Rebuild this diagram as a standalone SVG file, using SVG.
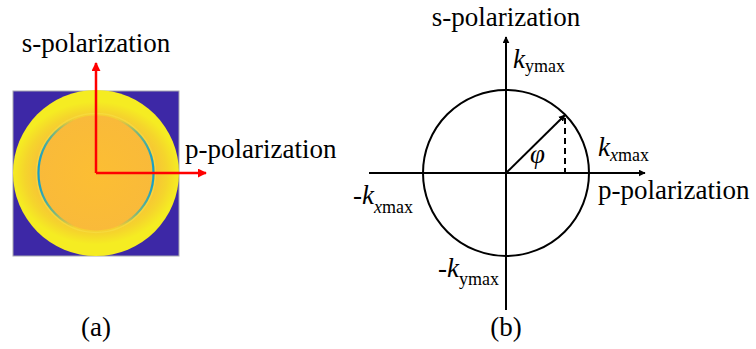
<svg xmlns="http://www.w3.org/2000/svg" width="756" height="349" viewBox="0 0 756 349" font-family="'Liberation Serif', 'DejaVu Serif', serif">
<style>
  text { font-family: 'Liberation Serif', 'Times New Roman', 'DejaVu Serif', serif; font-size: 27px; fill: #000; }
  .it { font-style: italic; }
  .sub { font-size: 18px; }
  .ax { stroke: #000; stroke-width: 2; fill: none; }
  .red { stroke: #ff0000; stroke-width: 2.5; fill: none; }
</style>
<defs>
  <marker id="ahB" viewBox="0 0 10 10" refX="9" refY="5" markerWidth="7" markerHeight="7" markerUnits="userSpaceOnUse" orient="auto">
    <path d="M0,0 L10,5 L0,10 z" fill="#000"/>
  </marker>
  <marker id="ahR" viewBox="0 0 10 10" refX="9" refY="5" markerWidth="9" markerHeight="9" markerUnits="userSpaceOnUse" orient="auto">
    <path d="M0,0 L10,5 L0,10 z" fill="#ff0000"/>
  </marker>
  <radialGradient id="outerG" gradientUnits="userSpaceOnUse" cx="96" cy="173" r="83" gradientTransform="translate(96 173) scale(1 0.86) translate(-96 -173)">
    <stop offset="0" stop-color="#fbbb38"/>
    <stop offset="0.7" stop-color="#f7c237"/>
    <stop offset="0.86" stop-color="#f5d52c"/>
    <stop offset="1" stop-color="#f5ec22"/>
  </radialGradient>
  <radialGradient id="innerG" gradientUnits="userSpaceOnUse" cx="96" cy="173" r="58">
    <stop offset="0" stop-color="#fcbe33"/>
    <stop offset="1" stop-color="#f9ba3a"/>
  </radialGradient>
  <linearGradient id="ringG" x1="0" y1="0" x2="1" y2="0">
    <stop offset="0" stop-color="#159fc8" stop-opacity="1"/>
    <stop offset="0.15" stop-color="#2fb2a8" stop-opacity="0.6"/>
    <stop offset="0.32" stop-color="#8fc66a" stop-opacity="0"/>
    <stop offset="0.68" stop-color="#8fc66a" stop-opacity="0"/>
    <stop offset="0.85" stop-color="#2fb2a8" stop-opacity="0.6"/>
    <stop offset="1" stop-color="#159fc8" stop-opacity="1"/>
  </linearGradient>
</defs>

<g id="panel-a">
  <rect x="13" y="91" width="166" height="165" fill="#3d28a6" stroke="#a8a8b0" stroke-width="1"/>
  <circle cx="96" cy="173" r="83" fill="url(#outerG)"/>
  <circle cx="96" cy="173" r="59.5" fill="none" stroke="#f7e24a" stroke-width="1.5" opacity="0.5"/>
  <circle cx="96" cy="173" r="57.5" fill="url(#innerG)"/>
  <circle cx="96" cy="173" r="57.5" fill="none" stroke="url(#ringG)" stroke-width="2.2"/>
</g>

<g id="connectors">
  <line class="red" x1="96" y1="173" x2="96" y2="63" marker-end="url(#ahR)"/>
  <line class="red" x1="96" y1="173" x2="206" y2="173" marker-end="url(#ahR)"/>
  <line class="ax" x1="506" y1="310" x2="506" y2="37" marker-end="url(#ahB)"/>
  <line class="ax" x1="369" y1="173" x2="645" y2="173" marker-end="url(#ahB)"/>
  <line class="ax" x1="506" y1="173" x2="565" y2="115" marker-end="url(#ahB)"/>
  <line class="ax" x1="565" y1="118" x2="565" y2="172" stroke-dasharray="6 4"/>
</g>

<g id="circle-b">
  <circle class="ax" cx="506" cy="173" r="83"/>
</g>

<g id="labels-a">
  <text x="96" y="52" text-anchor="middle">s-polarization</text>
  <text x="185" y="158">p-polarization</text>
  <text x="96" y="336" text-anchor="middle">(a)</text>
</g>

<g id="labels-b">
  <text x="506" y="26" text-anchor="middle">s-polarization</text>
  <text x="598" y="199">p-polarization</text>
  <text x="513" y="68"><tspan class="it">k</tspan><tspan class="sub" dy="4">ymax</tspan></text>
  <text x="598" y="156"><tspan class="it">k</tspan><tspan class="sub" dy="5"><tspan class="it">x</tspan>max</tspan></text>
  <text x="353" y="204">-<tspan class="it">k</tspan><tspan class="sub" dy="9"><tspan class="it">x</tspan>max</tspan></text>
  <text x="438" y="277">-<tspan class="it">k</tspan><tspan class="sub" dy="8">ymax</tspan></text>
  <text x="530" y="163" class="it">φ</text>
  <text x="506" y="336" text-anchor="middle">(b)</text>
</g>
</svg>
